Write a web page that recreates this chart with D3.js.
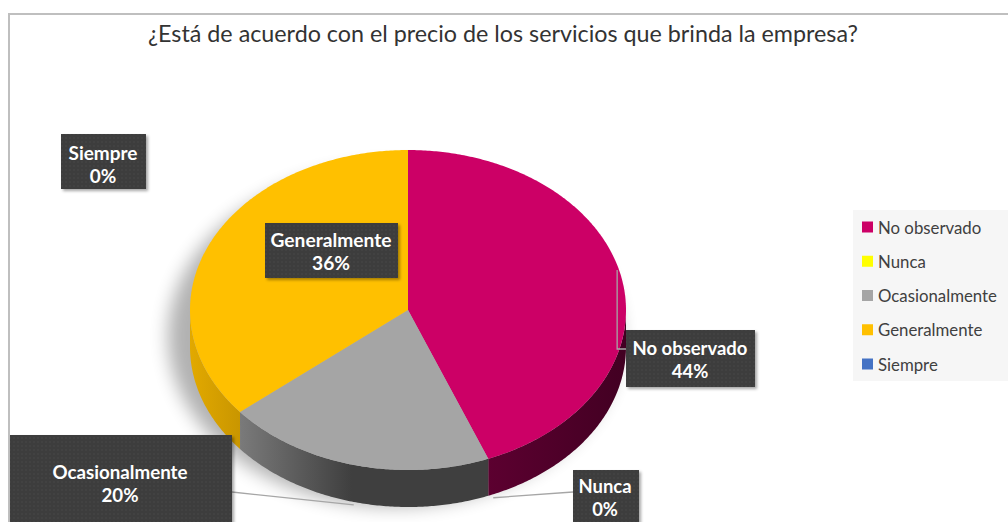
<!DOCTYPE html>
<html>
<head>
<meta charset="utf-8">
<script src="https://cdn.jsdelivr.net/npm/d3@7"></script>
<style>
  html, body { margin: 0; padding: 0; background: #fff; }
  svg { display: block; }
  text { font-family: Lato, "Open Sans", "Noto Sans", sans-serif; }
</style>
</head>
<body>
<svg id="chart" width="1008" height="522"></svg>
<script>
// Survey answers (percent of respondents)
const categories = ["No observado", "Nunca", "Ocasionalmente", "Generalmente", "Siempre"];
const values = [44, 0, 20, 36, 0];
const colors = ["#CC0066", "#FFFF00", "#A5A5A5", "#FFC000", "#4472C4"];
const sideColors = [["#5c0030", "#420022"], ["#b3b300", "#999900"], ["#7a7a7a", "#3f3f3f"], ["#e2a900", "#c99600"], ["#30508a", "#243c68"]];
const titleText = "¿Está de acuerdo con el precio de los servicios que brinda la empresa?";

const W = 1008, H = 522;
const svg = d3.select("#chart");
const defs = svg.append("defs");

// frame of the chart area
svg.append("path").attr("d", `M9,${H} V14 H${W}`).attr("fill", "none")
  .attr("stroke", "#bfbfbf").attr("stroke-width", 2);

// text helper: scale font-size so a string spans a given width
function fitWidth(sel, target) {
  const fs = parseFloat(sel.attr("font-size"));
  const w = sel.node().getComputedTextLength();
  const size = fs * target / w;
  sel.attr("font-size", size);
  return size;
}

// title
const title = svg.append("text").attr("x", 503).attr("y", 33)
  .attr("text-anchor", "middle").attr("dominant-baseline", "central")
  .attr("font-size", 20).attr("fill", "#333").text(titleText);
fitWidth(title, 710);

// ---- 3D pie ----
const cx = 408, cy = 310, rx = 218, ry = 160, depth = 37;
const pie = d3.pie().sort(null).value(d => d.value).startAngle(0).endAngle(2 * Math.PI);
const data = categories.map((c, i) => ({ name: c, value: values[i], color: colors[i], side: sideColors[i], idx: i }));
const arcs = pie(data);

const rimX = d3.scaleLinear().domain([-1, 1]).range([cx - rx, cx + rx]);
const rimY = d3.scaleLinear().domain([-1, 1]).range([cy - ry, cy + ry]);
function pt(a, dy = 0) { return [rimX(Math.sin(a)), rimY(-Math.cos(a)) + dy]; }
function rim(a0, a1, dy = 0) {
  const n = Math.max(2, Math.ceil(Math.abs(a1 - a0) / 0.01));
  return d3.range(n + 1).map(k => pt(a0 + (a1 - a0) * k / n, dy));
}
const line = d3.line();

// soft shadow beneath the pie
const blur = defs.append("filter").attr("id", "pieShadow").attr("x", "-20%").attr("y", "-20%").attr("width", "140%").attr("height", "140%");
blur.append("feGaussianBlur").attr("stdDeviation", 9);
svg.append("ellipse").attr("cx", cx - 14).attr("cy", cy + depth / 2 + 8)
  .attr("rx", rx + 8).attr("ry", ry + 10).attr("fill", "#000").attr("opacity", 0.3)
  .attr("filter", "url(#pieShadow)");

const gPie = svg.append("g");

// sides (front half only: angles between 90° and 270°)
arcs.forEach(a => {
  const s = Math.max(a.startAngle, Math.PI / 2), e = Math.min(a.endAngle, 3 * Math.PI / 2);
  if (e <= s) return;
  const gid = "side" + a.data.idx;
  const p0 = pt(s), p1 = pt(e);
  const lg = defs.append("linearGradient").attr("id", gid).attr("gradientUnits", "userSpaceOnUse")
    .attr("x1", Math.min(p0[0], p1[0])).attr("x2", Math.max(p0[0], p1[0])).attr("y1", 0).attr("y2", 0);
  // lighter toward the left edge of each visible side
  lg.append("stop").attr("offset", 0).attr("stop-color", a.data.side[0]);
  lg.append("stop").attr("offset", a.data.idx === 2 ? 0.45 : 1).attr("stop-color", a.data.side[1]);
  const top = rim(s, e), bottom = rim(e, s, depth);
  gPie.append("path").attr("d", line(top.concat(bottom)) + "Z").attr("fill", `url(#${gid})`);
});

// top faces
arcs.forEach(a => {
  if (a.endAngle - a.startAngle <= 0) return;
  const pts = [[cx, cy]].concat(rim(a.startAngle, a.endAngle));
  gPie.append("path").attr("d", line(pts) + "Z").attr("fill", a.data.color);
});

// ---- data labels ----
const dots = defs.append("pattern").attr("id", "dots").attr("width", 4).attr("height", 4).attr("patternUnits", "userSpaceOnUse");
dots.append("rect").attr("width", 4).attr("height", 4).attr("fill", "#3d3d3d");
dots.append("circle").attr("cx", 2).attr("cy", 2).attr("r", 0.8).attr("fill", "#4b4b4b");
const ds = defs.append("filter").attr("id", "boxShadow").attr("x", "-10%").attr("y", "-10%").attr("width", "130%").attr("height", "140%");
ds.append("feDropShadow").attr("dx", 2).attr("dy", 2).attr("stdDeviation", 1.8).attr("flood-color", "#000").attr("flood-opacity", 0.35);

// label box layout: box rect, text centre, name width
const labelLayout = {
  "Siempre":        { box: [61, 134, 85, 55],   tx: 103, ty: 152, tw: 69 },
  "Generalmente":   { box: [265, 223, 133, 55], tx: 331, ty: 239, tw: 121 },
  "No observado":   { box: [626, 330, 129, 57], tx: 690, ty: 348, tw: 115 },
  "Ocasionalmente": { box: [10, 435, 222, 100], tx: 120, ty: 472, tw: 135 },
  "Nunca":          { box: [573, 470, 66, 60],  tx: 605, ty: 486, tw: 53 }
};

const gLines = svg.append("g").attr("fill", "none").attr("stroke", "#a6a6a6").attr("stroke-width", 1.3);
arcs.forEach(a => {
  const L = labelLayout[a.data.name];
  const mid = (a.startAngle + a.endAngle) / 2;
  if (a.data.name === "No observado") {
    const p = pt(mid);
    const xe = p[0] - 5;
    gLines.append("polyline").attr("points", [[L.box[0], L.ty + 1], [xe, L.ty + 1], [xe, p[1] - 10]].join(" "));
  } else if (a.data.name === "Nunca") {
    const p = pt(mid, depth + 2);
    gLines.append("polyline").attr("points", [[L.box[0], L.ty + 6], [p[0] + 5, p[1]]].join(" "));
  } else if (a.data.name === "Ocasionalmente") {
    const p = pt(mid, depth + 3);
    gLines.append("polyline").attr("points", [[L.box[0] + L.box[2], L.ty + 20], [p[0], p[1]]].join(" "));
  }
});

const gLabels = svg.append("g");
arcs.forEach(a => {
  const L = labelLayout[a.data.name];
  const g = gLabels.append("g");
  g.append("rect").attr("x", L.box[0]).attr("y", L.box[1]).attr("width", L.box[2]).attr("height", L.box[3])
    .attr("fill", "url(#dots)").attr("filter", "url(#boxShadow)");
  const t1 = g.append("text").attr("x", L.tx).attr("y", L.ty).attr("text-anchor", "middle")
    .attr("dominant-baseline", "central").attr("font-weight", "bold").attr("font-size", 16)
    .attr("fill", "#fff").text(a.data.name);
  const fs = fitWidth(t1, L.tw);
  g.append("text").attr("x", L.tx).attr("y", L.ty + 23).attr("text-anchor", "middle")
    .attr("dominant-baseline", "central").attr("font-weight", "bold").attr("font-size", fs)
    .attr("fill", "#fff").text(d3.format(".0%")(a.data.value / 100));
});

// ---- legend ----
const legend = svg.append("g");
legend.append("rect").attr("x", 853).attr("y", 210).attr("width", W - 853).attr("height", 171).attr("fill", "#f6f6f6");
const ly = d3.scalePoint().domain(categories).range([227, 364]);
let legendSize = null;
categories.forEach((c, i) => {
  legend.append("rect").attr("x", 862).attr("y", ly(c) - 5.5).attr("width", 11).attr("height", 11).attr("fill", colors[i]);
  const t = legend.append("text").attr("x", 878).attr("y", ly(c)).attr("dominant-baseline", "central")
    .attr("font-size", 15).attr("fill", "#404040").text(c);
  if (c === "Ocasionalmente") legendSize = fitWidth(t, 119);
});
legend.selectAll("text").attr("font-size", legendSize);
</script>
</body>
</html>
